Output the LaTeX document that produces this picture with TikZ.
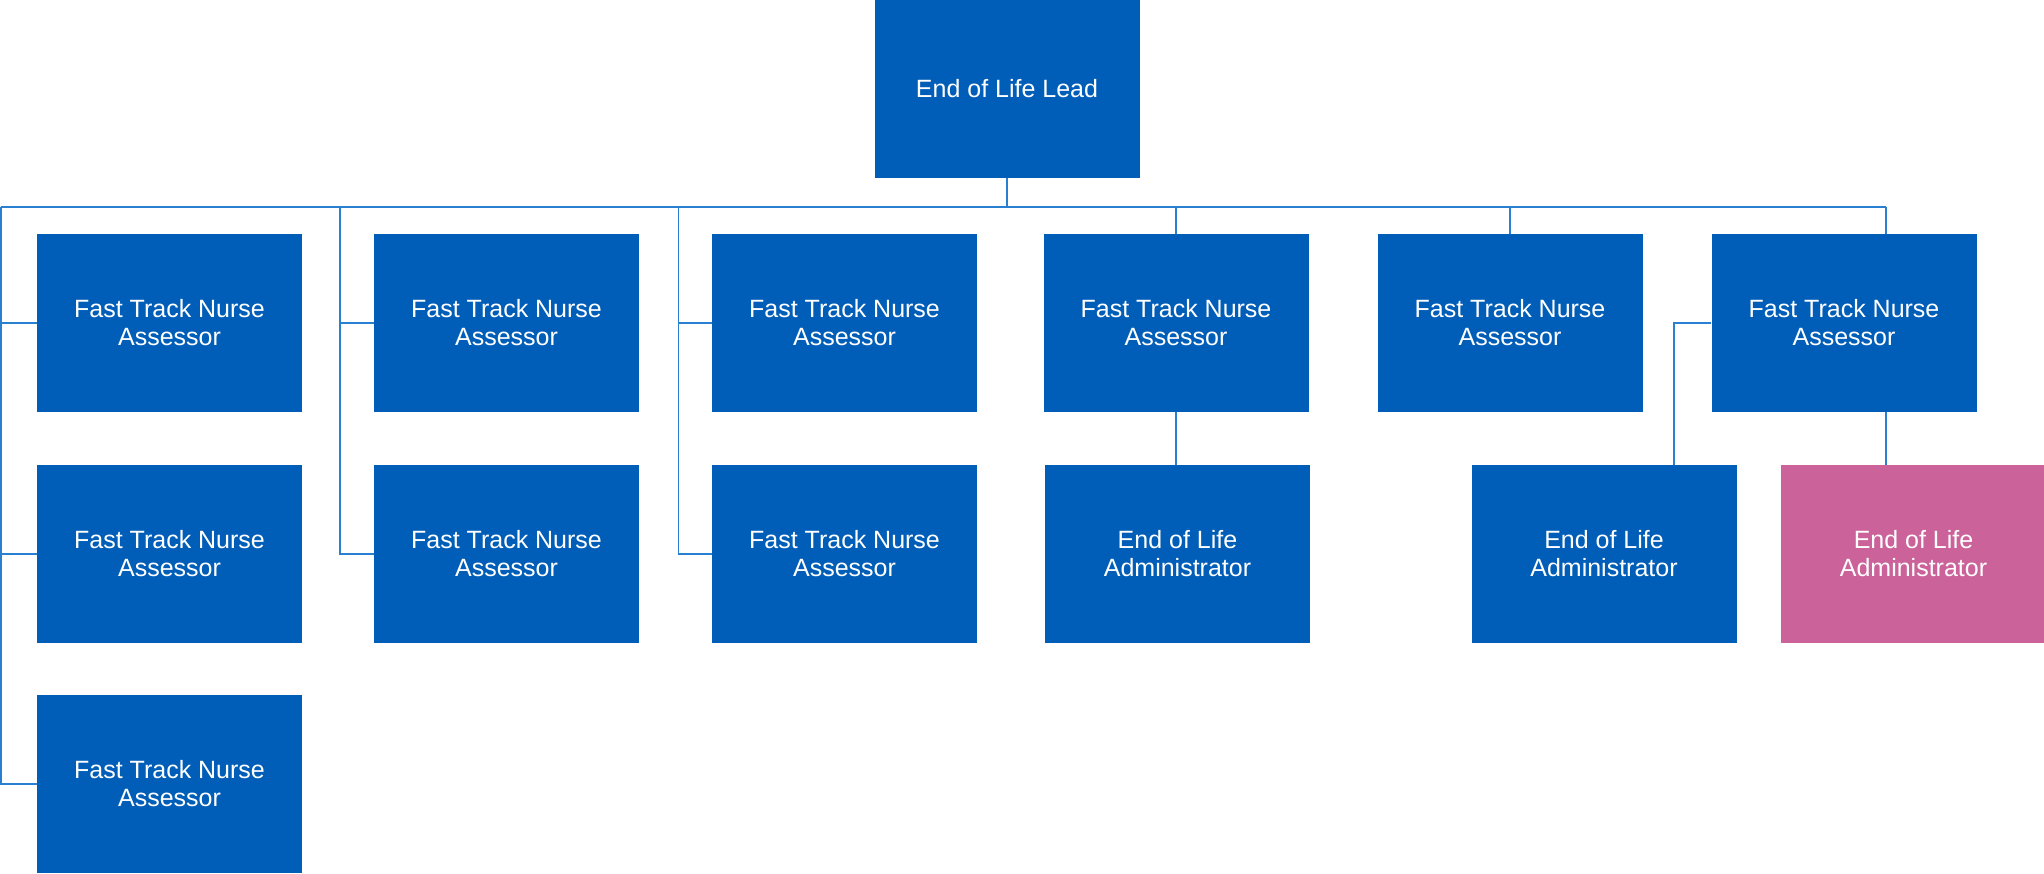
\documentclass[tikz,border=0pt]{standalone}
\usepackage{fontspec}
\setmainfont{Liberation Sans}
\definecolor{nhsblue}{HTML}{005EB8}
\definecolor{rosepink}{HTML}{CB6299}
\definecolor{linkblue}{HTML}{2A80D0}
\newcommand\orgfont{\fontsize{25}{28}\selectfont}
\begin{document}
\begin{tikzpicture}[x=1pt,y=-1pt,
  role/.style={rectangle, fill=nhsblue, text=white, minimum width=265pt,
    minimum height=178pt, inner sep=0pt, align=center, font=\orgfont},
  admin/.style={role, fill=rosepink},
  wire/.style={draw=linkblue, line width=1.6pt}]
\useasboundingbox (0,0) rectangle (2044,874);

% head of the team
\node[role] (lead) at (1007,89) {End of Life Lead};

% first row
\node[role] (f11) at (169.5,323) {Fast Track Nurse\\Assessor};
\node[role] (f21) at (506.5,323) {Fast Track Nurse\\Assessor};
\node[role] (f31) at (844.5,323) {Fast Track Nurse\\Assessor};
\node[role] (f41) at (1176,323) {Fast Track Nurse\\Assessor};
\node[role] (f51) at (1510,323) {Fast Track Nurse\\Assessor};
\node[role] (f61) at (1844,323) {Fast Track Nurse\\Assessor};

% second row
\node[role] (f12) at (169.5,554) {Fast Track Nurse\\Assessor};
\node[role] (f22) at (506.5,554) {Fast Track Nurse\\Assessor};
\node[role] (f32) at (844.5,554) {Fast Track Nurse\\Assessor};
\node[role] (a4) at (1177.5,554) {End of Life\\Administrator};
\node[role] (a5) at (1604,554) {End of Life\\Administrator};
\node[admin] (a6) at (1913.5,554) {End of Life\\Administrator};

% third row
\node[role] (f13) at (169.5,784) {Fast Track Nurse\\Assessor};

% bus and junction points
\coordinate (busL) at (0.8,207);
\coordinate (busR) at (1886,207);
\coordinate (k2) at (340,207);
\coordinate (k3) at (678.6,207);
\coordinate (k5) at (1674,323);

% connectors
\draw[wire] (lead.south) -- (lead.south |- busL);
\draw[wire] (busL) -- (busR);

\draw[wire] (busL) -- (busL |- f13.west) -- (f13.west);
\draw[wire] (busL |- f11.west) -- (f11.west);
\draw[wire] (busL |- f12.west) -- (f12.west);

\draw[wire] (k2) -- (k2 |- f22.west) -- (f22.west);
\draw[wire] (k2 |- f21.west) -- (f21.west);

\draw[wire] (k3) -- (k3 |- f32.west) -- (f32.west);
\draw[wire] (k3 |- f31.west) -- (f31.west);

\draw[wire] (f41.north) -- (f41.north |- busL);
\draw[wire] (f41.south) -- (f41.south |- a4.north);

\draw[wire] (f51.north) -- (f51.north |- busL);

\draw[wire] (busR) -- (busR |- f61.north);
\draw[wire] (busR |- f61.south) -- (busR |- a6.north);
\draw[wire] (f61.west) -- (k5) -- (k5 |- a5.north);
\end{tikzpicture}
\end{document}
